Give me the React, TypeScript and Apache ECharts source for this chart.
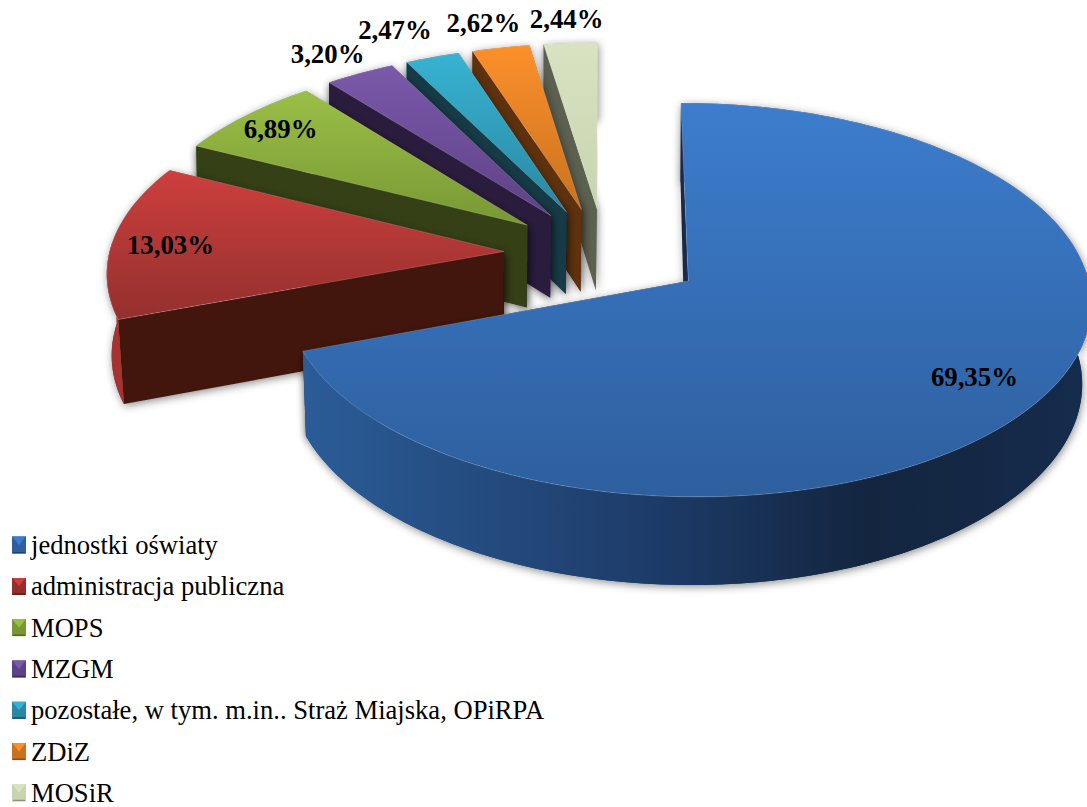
import React, { useEffect, useRef } from "react";
import * as echarts from "echarts";

const categories = [
  "jednostki oświaty",
  "administracja publiczna",
  "MOPS",
  "MZGM",
  "pozostałe, w tym. m.in.. Straż Miajska, OPiRPA",
  "ZDiZ",
  "MOSiR",
];
const shares = [69.35, 13.03, 6.89, 3.2, 2.47, 2.62, 2.44];

const topLight = ["#3c7dcd", "#cd3f3d", "#9abf47", "#7b59aa", "#38b2d2", "#fc902a", "#d9e3c2"];
const topDark = ["#2e5f9e", "#93302e", "#789833", "#5e4287", "#2a88a4", "#c97220", "#c8d3af"];
const wallDark = ["#16294a", "#43130f", "#353f17", "#2a1b3d", "#123a46", "#5e3010", "#5b6050"];
const rimLight = ["#2b5c97", "#a53331", "#5a7a2a", "#4d3670", "#1f6d85", "#a85d18", "#9aa488"];
const labelRadii = [0.82, 0.85, 0.87, 1.155, 1.21, 1.17, 1.16];
const labelTurns = [0, -0.7, 0, -0.8, -1.7, -0.7, 0];

const total = shares.reduce((a, b) => a + b, 0);
const fontFamily = '"Liberation Serif", "Times New Roman", serif';

// Projection of the pie's unit plane to the screen
const CX = 604.5;
const CY = 254;
const RX = 395;
const RY = 190;
const PERSP = 0.095;
const EXPLODE_X = 0.255;
const EXPLODE_Y = 0.245;
const RIM_MARGIN = (3 * Math.PI) / 180;

function top(X: number, V: number) {
  const w = 1 - PERSP * V;
  return [CX + (RX * X) / w, CY + (RY * V) / w];
}
function bottom(X: number, V: number) {
  const p = top(X, V);
  const squeeze = Math.max(0.002, 0.012 + 0.012 * V);
  return [p[0] - (p[0] - 478) * squeeze, p[1] + 83 + 4.5 * V];
}

function bevelIcon(light: string, dark: string, wall: string) {
  const svg =
    `<svg xmlns="http://www.w3.org/2000/svg" width="14" height="14" viewBox="0 0 14 14" preserveAspectRatio="none">` +
    `<rect width="14" height="14" fill="${dark}"/>` +
    `<polygon points="0,0 14,0 7,7" fill="${light}"/>` +
    `<polygon points="0,14 14,14 12.5,12.5 1.5,12.5" fill="${wall}" fill-opacity="0.55"/>` +
    `</svg>`;
  return "image://data:image/svg+xml;charset=utf-8," + encodeURIComponent(svg);
}

function arcPoints(ox: number, oy: number, from: number, to: number) {
  const steps = Math.max(8, Math.round((to - from) * 40));
  const pts: number[][] = [];
  for (let i = 0; i <= steps; i++) {
    const a = from + ((to - from) * i) / steps;
    pts.push([ox + Math.sin(a), oy - Math.cos(a)]);
  }
  return pts;
}

function sliceRenderer(index: number) {
  const before = shares.slice(0, index).reduce((a, b) => a + b, 0);
  return (_params: any, api: any) => {
    const value = api.value(0);
    const a0 = (before / total) * Math.PI * 2;
    const a1 = ((before + value) / total) * Math.PI * 2;
    const mid = (a0 + a1) / 2;
    const ox = EXPLODE_X * Math.sin(mid);
    const oy = -EXPLODE_Y * Math.cos(mid);
    const rim = arcPoints(ox, oy, a0, a1);
    const first = rim[0];
    const last = rim[rim.length - 1];
    const shadow = { shadowBlur: 8, shadowColor: "rgba(0,0,0,0.45)", shadowOffsetX: 1, shadowOffsetY: 2 };
    const wallQuad = (p: number[]) => ({
      type: "polygon",
      shape: {
        points: [top(ox, oy), top(p[0], p[1]), bottom(p[0], p[1]), bottom(ox, oy)],
      },
      style: { fill: wallDark[index], ...shadow },
    });
    const strip = (pts: number[][]) => [
      ...pts.map((p) => top(p[0], p[1])),
      ...pts.slice().reverse().map((p) => bottom(p[0], p[1])),
    ];
    const rimFill =
      index === 0
        ? {
            type: "linear", x: 0, y: 0, x2: 1, y2: 0,
            colorStops: [
              { offset: 0, color: rimLight[0] },
              { offset: 0.45, color: "#1d3b68" },
              { offset: 0.72, color: "#13253f" },
              { offset: 1, color: "#162c4d" },
            ],
          }
        : rimLight[index];
    // the part of the rim that faces the viewer is painted over the cut walls
    const from = Math.max(a0, Math.PI / 2 - RIM_MARGIN);
    const to = Math.min(a1, (3 * Math.PI) / 2 + RIM_MARGIN);
    const frontRim = to > from ? arcPoints(ox, oy, from, to) : null;

    const labelAngle = mid + (labelTurns[index] * Math.PI) / 180;
    const lx = ox + labelRadii[index] * Math.sin(labelAngle);
    const ly = oy - labelRadii[index] * Math.cos(labelAngle);
    const labelPos = top(lx, ly);

    const children: any[] = [
      wallQuad(last),
      { type: "polygon", shape: { points: strip(rim) }, style: { fill: rimFill, ...shadow } },
      wallQuad(first),
    ];
    if (frontRim) {
      children.push({ type: "polygon", shape: { points: strip(frontRim) }, style: { fill: rimFill } });
    }
    children.push(
      {
        type: "polygon",
        shape: { points: [top(ox, oy), ...rim.map((p) => top(p[0], p[1]))] },
        style: {
          fill: {
            type: "linear", x: 0, y: 0, x2: 0, y2: 1,
            colorStops: [
              { offset: 0, color: topLight[index] },
              { offset: 1, color: topDark[index] },
            ],
          },
          stroke: "rgba(255,255,255,0.18)",
          lineWidth: 1,
        },
      },
      {
        type: "text",
        z2: 100,
        style: {
          x: labelPos[0],
          y: labelPos[1],
          text: value.toFixed(2).replace(".", ",") + "%",
          font: `bold 26.8px ${fontFamily}`,
          fill: "#000",
          align: "center",
          verticalAlign: "middle",
        },
      }
    );
    return { type: "group", children };
  };
}

export default function App() {
  const ref = useRef<HTMLDivElement>(null);
  useEffect(() => {
    document.body.style.margin = "0";
    document.body.style.background = "#fff";
    const chart = echarts.init(ref.current!, undefined, { renderer: "svg" });
    const order = categories.map((_, i) => categories.length - 1 - i);
    chart.setOption({
      animation: false,
      backgroundColor: "#fff",
      legend: {
        orient: "vertical",
        left: 12,
        top: 531.5,
        height: 320,
        padding: 0,
        selectedMode: false,
        itemWidth: 14,
        itemHeight: 17.5,
        itemGap: 14.3,
        textStyle: { fontFamily, fontSize: 26.6, lineHeight: 27, color: "#000", padding: 0 },
        data: categories.map((name, i) => ({
          name,
          icon: bevelIcon(topLight[i], topDark[i], wallDark[i]),
        })),
      },
      series: order.map((i) => ({
        type: "custom",
        name: categories[i],
        coordinateSystem: "none",
        silent: true,
        data: [[shares[i]]],
        itemStyle: { color: topLight[i] },
        renderItem: sliceRenderer(i),
      })),
    });
    return () => chart.dispose();
  }, []);
  return <div ref={ref} style={{ width: 1087, height: 807, overflow: "hidden" }} />;
}
